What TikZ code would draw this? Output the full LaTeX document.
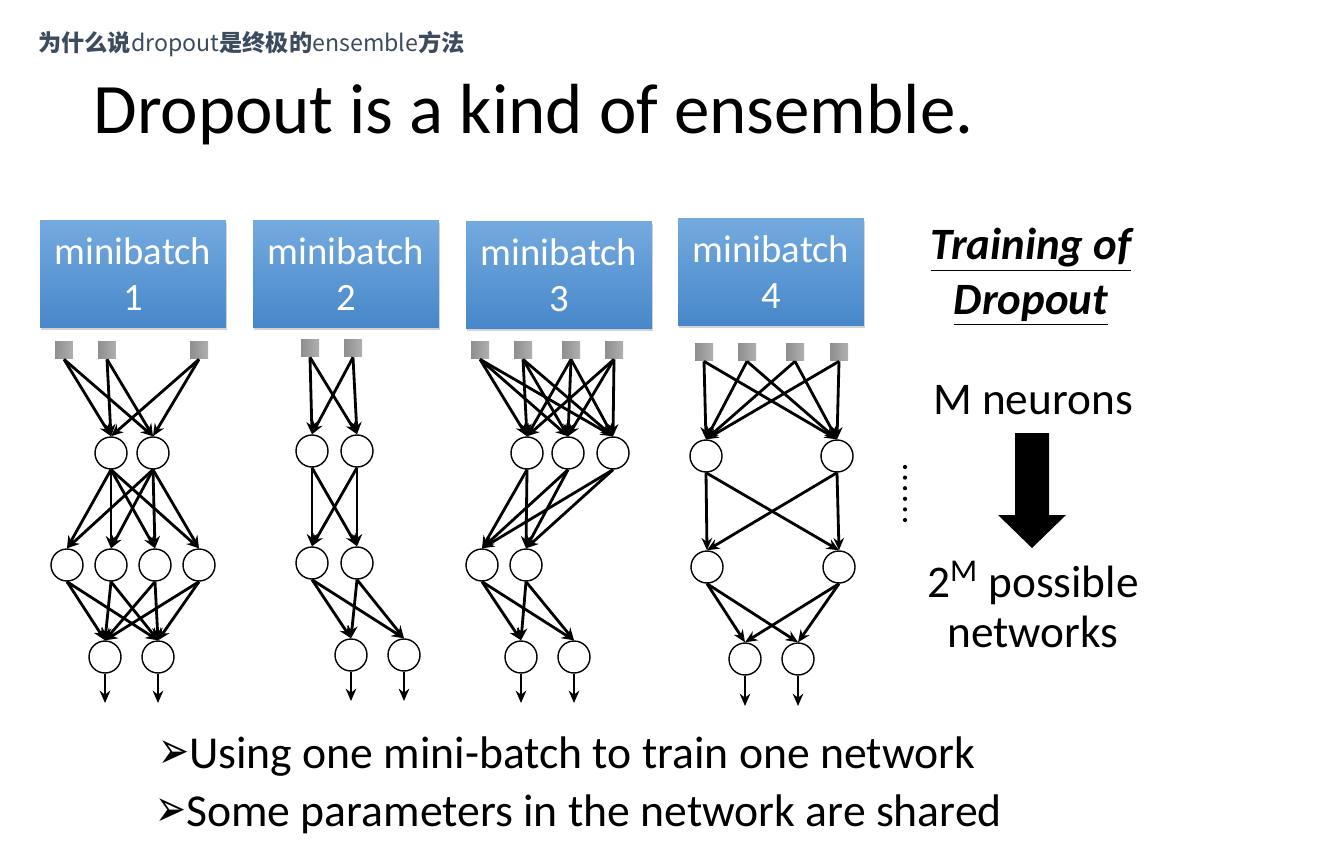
\documentclass[tikz,border=0pt]{standalone}
\usepackage{fontspec}
\setmainfont{Carlito}
\newfontfamily\cjk{Noto Sans CJK SC}
\newfontfamily\dejavu{DejaVu Sans}
\usetikzlibrary{arrows.meta,shadows}
\definecolor{headgray}{HTML}{3D4B5F}
\definecolor{boxtop}{HTML}{74AADF}
\definecolor{boxbot}{HTML}{4787C9}
\definecolor{sqdark}{HTML}{8E8E8E}
\definecolor{sqlight}{HTML}{B0B0B0}
\newcommand\arrowbullet{\scalebox{0.78}[1.1]{\dejavu\fontsize{27}{30}\selectfont ➢}}
\tikzset{
  batch/.style={top color=boxtop, bottom color=boxbot, minimum width=3.72cm,
    minimum height=2.14cm, text=white, align=center,
    font=\fontsize{22}{26}\selectfont,
    drop shadow={opacity=0.35, shadow xshift=0.8pt, shadow yshift=-1.6pt}},
  inp/.style={left color=sqdark, right color=sqlight, minimum size=0.36cm, inner sep=0pt},
  unit/.style={circle, draw, line width=0.8pt, fill=white, minimum size=0.64cm, inner sep=0pt},
  conn/.style={line width=1.6pt, -{Stealth[length=7pt,width=6pt]}},
  bigtext/.style={anchor=base, font=\fontsize{25.8}{30}\selectfont},
  bullet/.style={anchor=base west, font=\fontsize{26}{30}\selectfont},
}
\begin{document}
\begin{tikzpicture}[x=0.02cm,y=-0.02cm]
  \useasboundingbox (0,0) rectangle (1318,844);

  \node[anchor=base west, text=headgray, inner sep=0pt] (head) at (38,52)
    {\cjk\fontsize{13.2}{16}\selectfont\bfseries 为什么说\mdseries dropout\bfseries 是终极的\mdseries ensemble\bfseries 方法};
  \node[anchor=base west, inner sep=0pt, font=\fontsize{40.4}{46}\selectfont] (title) at (93,134)
    {Dropout is a kind of ensemble.};

  \node[batch] (mb1) at (133,274) {minibatch\\1};
  \node[batch] (mb2) at (346,274) {minibatch\\2};
  \node[batch] (mb3) at (559,275) {minibatch\\3};
  \node[batch] (mb4) at (771,272) {minibatch\\4};

  % network 1
  \foreach \x [count=\k] in {64,107,199} \node[inp] (i1-\k) at (\x,350) {};
  \foreach \x [count=\k] in {111,153} \node[unit] (h1-\k) at (\x,453) {};
  \foreach \x [count=\k] in {67,111,155,199} \node[unit] (g1-\k) at (\x,565) {};
  \foreach \x [count=\k] in {105,158} {
    \node[unit] (o1-\k) at (\x,657) {};
    \coordinate (y1-\k) at (\x,703);
  }
  \foreach \s in {1,2,3} \foreach \t in {1,2} \draw[conn] (i1-\s.south) -- (h1-\t.north);
  \foreach \s in {1,2} \foreach \t in {1,...,4} \draw[conn] (h1-\s.south) -- (g1-\t.north);
  \foreach \s in {1,...,4} \foreach \t in {1,2} \draw[conn] (g1-\s.south) -- (o1-\t.north);
  \foreach \t in {1,2} \draw[conn] (o1-\t.south) -- (y1-\t);

  % network 2
  \foreach \x [count=\k] in {310,353} \node[inp] (i2-\k) at (\x,348) {};
  \foreach \x [count=\k] in {312,357} \node[unit] (h2-\k) at (\x,451) {};
  \foreach \x [count=\k] in {312,357} \node[unit] (g2-\k) at (\x,563) {};
  \foreach \x [count=\k] in {351,404} {
    \node[unit] (o2-\k) at (\x,655) {};
    \coordinate (y2-\k) at (\x,701);
  }
  \foreach \s in {1,2} \foreach \t in {1,2} {
    \draw[conn] (i2-\s.south) -- (h2-\t.north);
    \draw[conn] (h2-\s.south) -- (g2-\t.north);
    \draw[conn] (g2-\s.south) -- (o2-\t.north);
  }
  \foreach \t in {1,2} \draw[conn] (o2-\t.south) -- (y2-\t);

  % network 3
  \foreach \x [count=\k] in {480,523,571,614} \node[inp] (i3-\k) at (\x,350) {};
  \foreach \x [count=\k] in {527,568,613} \node[unit] (h3-\k) at (\x,453) {};
  \foreach \x [count=\k] in {482,526} \node[unit] (g3-\k) at (\x,565) {};
  \foreach \x [count=\k] in {521,574} {
    \node[unit] (o3-\k) at (\x,657) {};
    \coordinate (y3-\k) at (\x,703);
  }
  \foreach \s in {1,...,4} \foreach \t in {1,2,3} \draw[conn] (i3-\s.south) -- (h3-\t.north);
  \foreach \s in {1,2,3} \foreach \t in {1,2} \draw[conn] (h3-\s.south) -- (g3-\t.north);
  \foreach \s in {1,2} \foreach \t in {1,2} \draw[conn] (g3-\s.south) -- (o3-\t.north);
  \foreach \t in {1,2} \draw[conn] (o3-\t.south) -- (y3-\t);

  % network 4
  \foreach \x [count=\k] in {704,747,795,839} \node[inp] (i4-\k) at (\x,352) {};
  \foreach \x [count=\k] in {706,837} \node[unit] (h4-\k) at (\x,456) {};
  \foreach \x [count=\k] in {707,839} \node[unit] (g4-\k) at (\x,567) {};
  \foreach \x [count=\k] in {745,798} {
    \node[unit] (o4-\k) at (\x,659) {};
    \coordinate (y4-\k) at (\x,706);
  }
  \foreach \s in {1,...,4} \foreach \t in {1,2} \draw[conn] (i4-\s.south) -- (h4-\t.north);
  \foreach \s in {1,2} \foreach \t in {1,2} {
    \draw[conn] (h4-\s.south) -- (g4-\t.north);
    \draw[conn] (g4-\s.south) -- (o4-\t.north);
  }
  \foreach \t in {1,2} \draw[conn] (o4-\t.south) -- (y4-\t);

  \foreach \k in {0,...,5} \fill (905,467+10.6*\k) circle (1.2pt);

  \node[bigtext, font=\fontsize{25.5}{30}\selectfont\bfseries\itshape] (train) at (1031,260) {\underline{Training of}};
  \node[bigtext, font=\fontsize{25.5}{30}\selectfont\bfseries\itshape] (drop) at (1031,315) {\underline{Dropout}};
  \node[bigtext] (mneu) at (1033,414) {M neurons};
  \fill (1015,433) -- (1049,433) -- (1049,515) -- (1066,515) -- (1032,548)
    -- (998,515) -- (1015,515) -- cycle;
  \node[bigtext] (poss) at (1033,597) {2\textsuperscript{M} possible};
  \node[bigtext] (nets) at (1033,647) {networks};

  \node[bullet] (b1) at (152,768) {\arrowbullet Using one mini-batch to train one network};
  \node[bullet] (b2) at (149,826) {\arrowbullet Some parameters in the network are shared};
\end{tikzpicture}
\end{document}
